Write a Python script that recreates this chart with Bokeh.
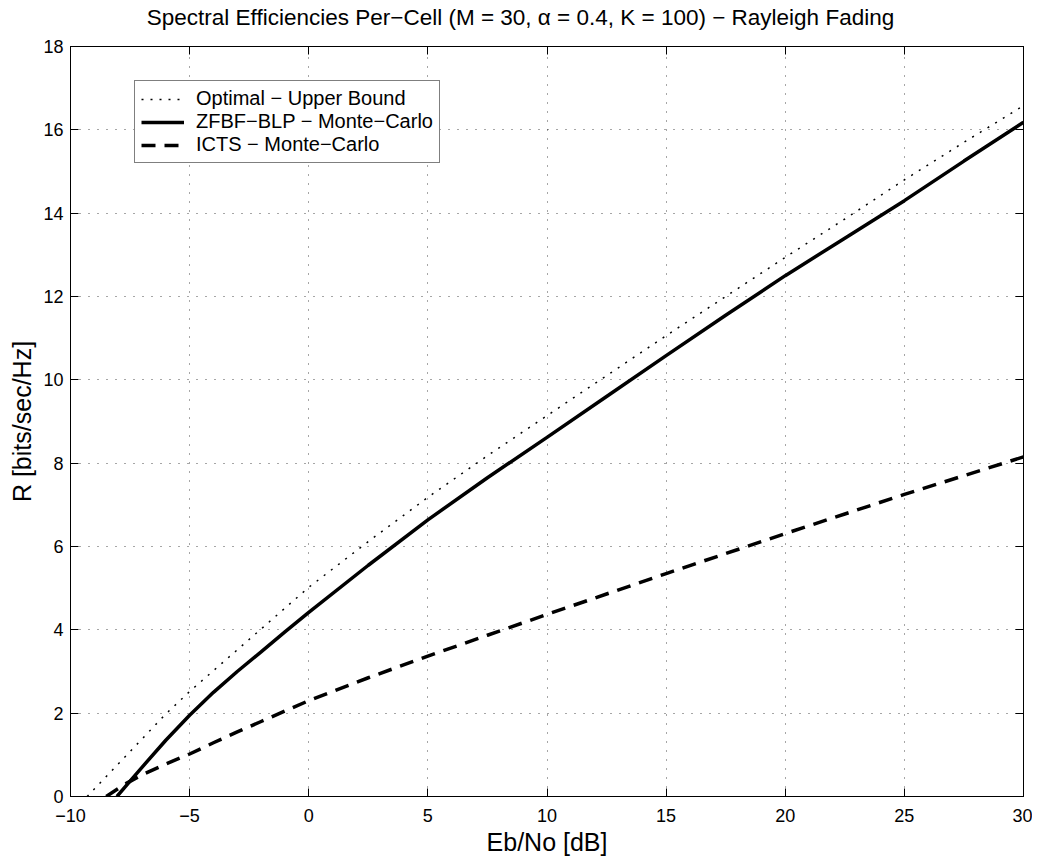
from bokeh.plotting import figure
from bokeh.layouts import column
from bokeh.models import LinearAxis, FixedTicker, Legend, LegendItem, Range1d, Label
from bokeh.embed import file_html
from bokeh.resources import INLINE

# ---- data ----
opt_x = [-9.3, -8, -7, -6, -5, -4, -3, -2, -1, 0, 2.5, 5, 7.5, 10, 12.5, 15, 17.5, 20, 22.5, 25, 27.5, 30]
opt_y = [0.0, 0.78, 1.38, 1.98, 2.52, 3.02, 3.52, 4.02, 4.52, 5.02, 6.12, 7.18, 8.18, 9.14, 10.1, 11.06, 12.0, 12.94, 13.86, 14.8, 15.7, 16.58]

zf_x = [-8.05, -7.5, -7, -6, -5, -4, -3, -2, -1, 0, 2.5, 5, 7.5, 10, 12.5, 15, 17.5, 20, 22.5, 25, 27.5, 30]
zf_y = [0.0, 0.37, 0.7, 1.35, 1.95, 2.5, 3.0, 3.47, 3.95, 4.42, 5.55, 6.64, 7.65, 8.62, 9.6, 10.58, 11.55, 12.5, 13.4, 14.3, 15.25, 16.18]

icts_x = [-8.5, -7.7, -7, -6, -5, -4, -3, -2, -1, 0, 2.5, 5, 7.5, 10, 12.5, 15, 17.5, 20, 22.5, 25, 27.5, 30]
icts_y = [0.0, 0.3, 0.52, 0.78, 1.02, 1.29, 1.55, 1.8, 2.05, 2.3, 2.85, 3.37, 3.87, 4.37, 4.86, 5.35, 5.83, 6.31, 6.78, 7.25, 7.7, 8.15]

x_ticks = [-10, -5, 0, 5, 10, 15, 20, 25, 30]
y_ticks = [0, 2, 4, 6, 8, 10, 12, 14, 16, 18]
x_tick_labels = {-10: "\u221210", -5: "\u22125"}

title_text = "Spectral Efficiencies Per\u2212Cell (M = 30, \u03b1 = 0.4, K = 100) \u2212 Rayleigh Fading"
labels = ["Optimal \u2212 Upper Bound", "ZFBF\u2212BLP \u2212 Monte\u2212Carlo", "ICTS \u2212 Monte\u2212Carlo"]

FONT = "Liberation Sans"
PAGE_W = 1032
TITLE_H = 32

# ---- title strip (its frame is aligned with the main plot's frame by the column layout) ----
t = figure(width=PAGE_W, height=TITLE_H, x_range=Range1d(0, 1), y_range=Range1d(0, 1),
           x_axis_type=None, y_axis_type=None, output_backend="svg", toolbar_location=None,
           min_border=0)
t.outline_line_color = None
t.background_fill_color = "white"
t.border_fill_color = "white"
t.add_layout(Label(x=450, y=TITLE_H - 17, x_units="screen", y_units="screen", text=title_text,
                   text_font=FONT, text_font_size="22.5px", text_color="black",
                   text_align="center", text_baseline="middle"))

# ---- main plot ----
p = figure(frame_width=953, frame_height=750, x_range=Range1d(-10, 30), y_range=Range1d(0, 18),
           output_backend="svg", toolbar_location=None,
           min_border_left=70, min_border_right=9, min_border_top=14, min_border_bottom=60)

p.background_fill_color = "white"
p.border_fill_color = "white"
p.outline_line_color = "black"
p.outline_line_width = 1

for g, tk in ((p.xgrid, x_ticks), (p.ygrid, y_ticks)):
    g.ticker = FixedTicker(ticks=tk)
    g.grid_line_color = "black"
    g.grid_line_alpha = 0.7
    g.grid_line_dash = "1 8"
    g.grid_line_width = 1

def style_axis(ax, ticks, show_labels=True):
    ax.ticker = FixedTicker(ticks=ticks)
    ax.axis_line_color = "black"
    ax.major_tick_line_color = "black"
    ax.major_tick_in = 8
    ax.major_tick_out = 0
    ax.minor_tick_in = 0
    ax.minor_tick_out = 0
    ax.major_label_text_font = FONT
    ax.axis_label_text_font = FONT
    ax.axis_label_text_font_size = "25px"
    ax.axis_label_text_font_style = "normal"
    ax.axis_label_text_color = "black"
    if show_labels:
        ax.major_label_text_font_size = "18px"
        ax.major_label_text_color = "black"
    else:
        ax.major_label_text_font_size = "1px"
        ax.major_label_text_color = None
        ax.major_label_standoff = 0

xa = p.xaxis[0]
ya = p.yaxis[0]
style_axis(xa, x_ticks)
style_axis(ya, y_ticks)
xa.major_label_overrides = x_tick_labels
xa.axis_label = "Eb/No [dB]"
ya.axis_label = "R [bits/sec/Hz]"
xa.major_label_standoff = 12
ya.major_label_standoff = 7
xa.axis_label_standoff = 3
ya.axis_label_standoff = 4

top = LinearAxis()
style_axis(top, x_ticks, show_labels=False)
p.add_layout(top, "above")
right = LinearAxis()
style_axis(right, y_ticks, show_labels=False)
p.add_layout(right, "right")

r1 = p.line(opt_x, opt_y, line_color="black", line_width=1.5, line_dash="2 7")
r2 = p.line(zf_x, zf_y, line_color="black", line_width=3.5)
r3 = p.line(icts_x, icts_y, line_color="black", line_width=3.5, line_dash="14 9")

legend = Legend(items=[LegendItem(label=labels[0], renderers=[r1]),
                       LegendItem(label=labels[1], renderers=[r2]),
                       LegendItem(label=labels[2], renderers=[r3])],
                location=(64, 633))
legend.label_text_font = FONT
legend.label_text_font_size = "20px"
legend.label_text_color = "black"
legend.border_line_color = "black"
legend.border_line_width = 1
legend.background_fill_alpha = 1.0
legend.padding = 6
legend.spacing = 0
legend.margin = 0
legend.label_height = 20
legend.glyph_height = 20
legend.glyph_width = 43
legend.label_standoff = 12
p.add_layout(legend, "center")

layout = column(t, p, spacing=0)
open("out.html", "w").write(file_html(layout, INLINE))
